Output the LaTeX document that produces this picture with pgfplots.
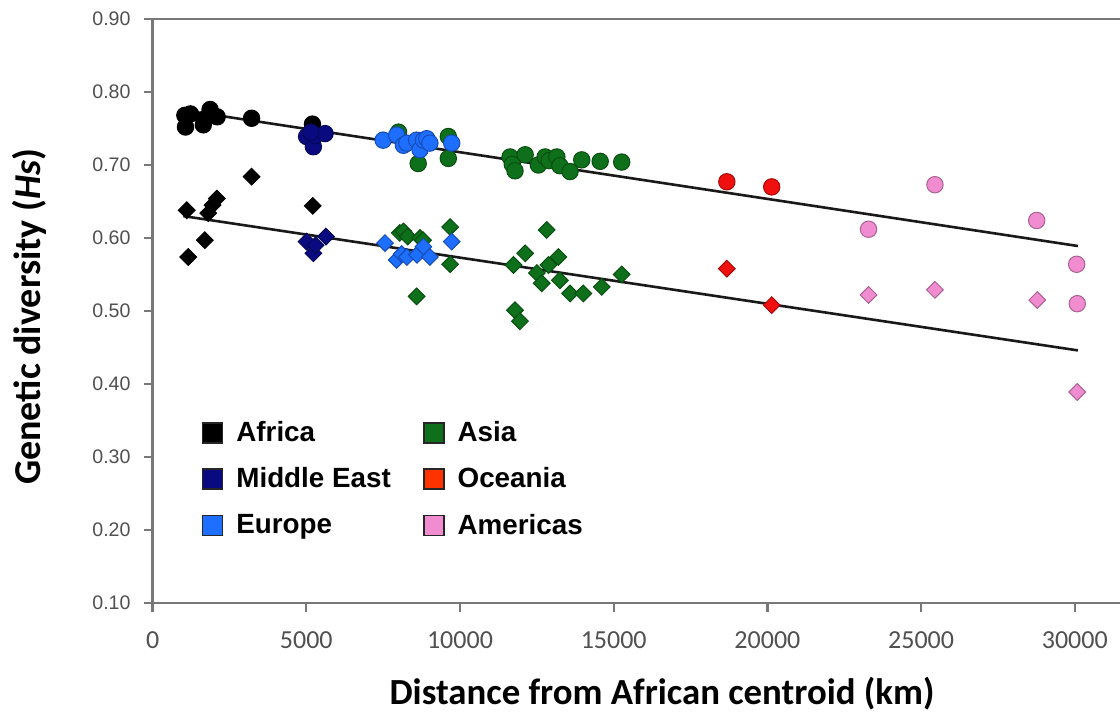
\documentclass[border=0pt]{standalone}
\usepackage{fontspec}
\setmainfont{Liberation Sans}
\newfontfamily\calibri{Carlito}
\usepackage{pgfplots}
\pgfplotsset{compat=1.18}
\definecolor{africa}{RGB}{0,0,0}
\definecolor{mideast}{RGB}{10,10,128}
\definecolor{europe}{RGB}{30,110,255}
\definecolor{asia}{RGB}{14,112,26}
\definecolor{oceania}{RGB}{240,16,16}
\definecolor{oceanialeg}{RGB}{255,51,0}
\definecolor{americas}{RGB}{242,140,208}
\definecolor{axgray}{RGB}{120,120,120}
\definecolor{tickgray}{RGB}{80,80,80}
\pgfplotsset{
  circ/.style={only marks, mark=*, mark size=4.1pt, mark options={fill=#1, draw=#1!70!black, line width=0.5pt}, forget plot},
  diam/.style={only marks, mark=square*, mark size=2.95pt, mark options={rotate=45, fill=#1, draw=#1!70!black, line width=0.5pt}, forget plot},
  sq/.style={legend image code/.code={\draw[fill=#1, draw=black!85, line width=0.9pt] (0pt,-5pt) rectangle (10pt,5pt);}},
}
\begin{document}
\begin{tikzpicture}
\begin{axis}[
  scale only axis,
  width=483.7pt, height=292pt,
  xmin=0, xmax=31470, ymin=0.10, ymax=0.90,
  axis x line*=bottom, axis y line*=left,
  axis line style={axgray, line width=1.1pt},
  tick style={axgray, line width=1.1pt},
  tick align=outside,
  major tick length=4.5pt,
  scaled x ticks=false,
  xtick={0,5000,10000,15000,20000,25000,30000},
  ytick={0.1,0.2,0.3,0.4,0.5,0.6,0.7,0.8,0.9},
  /pgf/number format/assume math mode=true,
  xticklabel style={font=\calibri\fontsize{13}{15}\selectfont, text=tickgray, /pgf/number format/1000 sep={}, yshift=-6.5pt},
  yticklabel style={font=\fontsize{9.8}{11}\selectfont, text=tickgray, xshift=-3pt, /pgf/number format/.cd, fixed, fixed zerofill, precision=2},
  xlabel={\calibri\bfseries Distance from African centroid (km)},
  ylabel={\calibri\bfseries Genetic diversity (\textit{Hs})},
  xlabel style={font=\fontsize{18.4}{21}\selectfont, at={(axis description cs:0.5266,-0.156)}, anchor=center},
  ylabel style={font=\fontsize{19}{22}\selectfont, at={(axis description cs:-0.127,0.49)}, anchor=center},
  legend columns=2,
  legend cell align=left,
  legend style={draw=none, fill=none, at={(axis description cs:0.044,0.325)}, anchor=north west,
    font=\bfseries\fontsize{13.9}{16}\selectfont, row sep=7.5pt,
    /tikz/every even column/.append style={column sep=14pt},
    /tikz/every odd column/.append style={column sep=4.5pt}},
  clip=false,
]
\coordinate (o) at (rel axis cs:0,0);
\coordinate (tr) at (rel axis cs:1,1);
\draw[axgray, line width=1.1pt] (rel axis cs:0,1) -- (rel axis cs:1,1);

% ---- circles (upper group) ----
\addplot[circ=africa] coordinates {(1050,0.768) (1070,0.752) (1230,0.770) (1650,0.755) (1730,0.764) (1870,0.776) (2100,0.766) (3220,0.764) (5200,0.756)};
\addplot[circ=mideast] coordinates {(5010,0.739) (5230,0.725) (5280,0.740) (5610,0.743) (5150,0.745)};
\addplot[circ=asia] coordinates {(8000,0.745) (8640,0.702) (9620,0.739) (9620,0.709) (11630,0.711) (11700,0.701) (11790,0.692) (12120,0.714) (12550,0.700) (12770,0.711) (12900,0.706) (13150,0.711) (13250,0.699) (13580,0.691) (13960,0.707) (14560,0.705) (15260,0.704)};
\addplot[circ=europe] coordinates {(7500,0.734) (7940,0.741) (8160,0.727) (8270,0.730) (8590,0.734) (8700,0.721) (8810,0.734) (8920,0.736) (9020,0.730) (9730,0.730)};
\addplot[circ=oceania] coordinates {(18680,0.677) (20140,0.670)};
\addplot[circ=americas] coordinates {(23290,0.612) (25450,0.673) (28760,0.624) (30060,0.564) (30080,0.510)};

% ---- diamonds (lower group) ----
\addplot[diam=africa] coordinates {(1110,0.638) (1160,0.574) (1700,0.597) (1810,0.634) (1950,0.645) (2090,0.654) (3220,0.684) (5210,0.644)};
\addplot[diam=mideast] coordinates {(5010,0.595) (5230,0.579) (5640,0.602) (5300,0.590)};
\addplot[diam=asia] coordinates {(8040,0.607) (8160,0.609) (8300,0.602) (8590,0.520) (8700,0.600) (8800,0.597) (9680,0.615) (9680,0.564) (11740,0.563) (11790,0.501) (11950,0.486) (12120,0.579) (12500,0.552) (12660,0.538) (12820,0.611) (12880,0.563) (13200,0.574) (13250,0.542) (13580,0.524) (14010,0.524) (14610,0.533) (15260,0.550)};
\addplot[diam=europe] coordinates {(7560,0.593) (7940,0.570) (8100,0.578) (8270,0.574) (8600,0.577) (8810,0.588) (9020,0.574) (9730,0.595)};
\addplot[diam=oceania] coordinates {(18680,0.558) (20140,0.508)};
\addplot[diam=americas] coordinates {(23290,0.522) (25450,0.529) (28780,0.515) (30080,0.389)};

% ---- regression lines ----
\addplot[black!90, line width=1.3pt, forget plot] coordinates {(1000,0.775) (30100,0.589)};
\addplot[black!90, line width=1.3pt, forget plot] coordinates {(1000,0.630) (30100,0.446)};

% ---- legend ----
\addlegendimage{sq=africa}\addlegendentry{Africa}
\addlegendimage{sq=asia}\addlegendentry{Asia}
\addlegendimage{sq=mideast}\addlegendentry{Middle East}
\addlegendimage{sq=oceanialeg}\addlegendentry{Oceania}
\addlegendimage{sq=europe}\addlegendentry{Europe}
\addlegendimage{sq=americas}\addlegendentry{Americas}
\end{axis}
\pgfresetboundingbox
\path ([shift={(-76.3pt,-54.5pt)}]o) rectangle ([shift={(0pt,9.5pt)}]tr);
\end{tikzpicture}
\end{document}
